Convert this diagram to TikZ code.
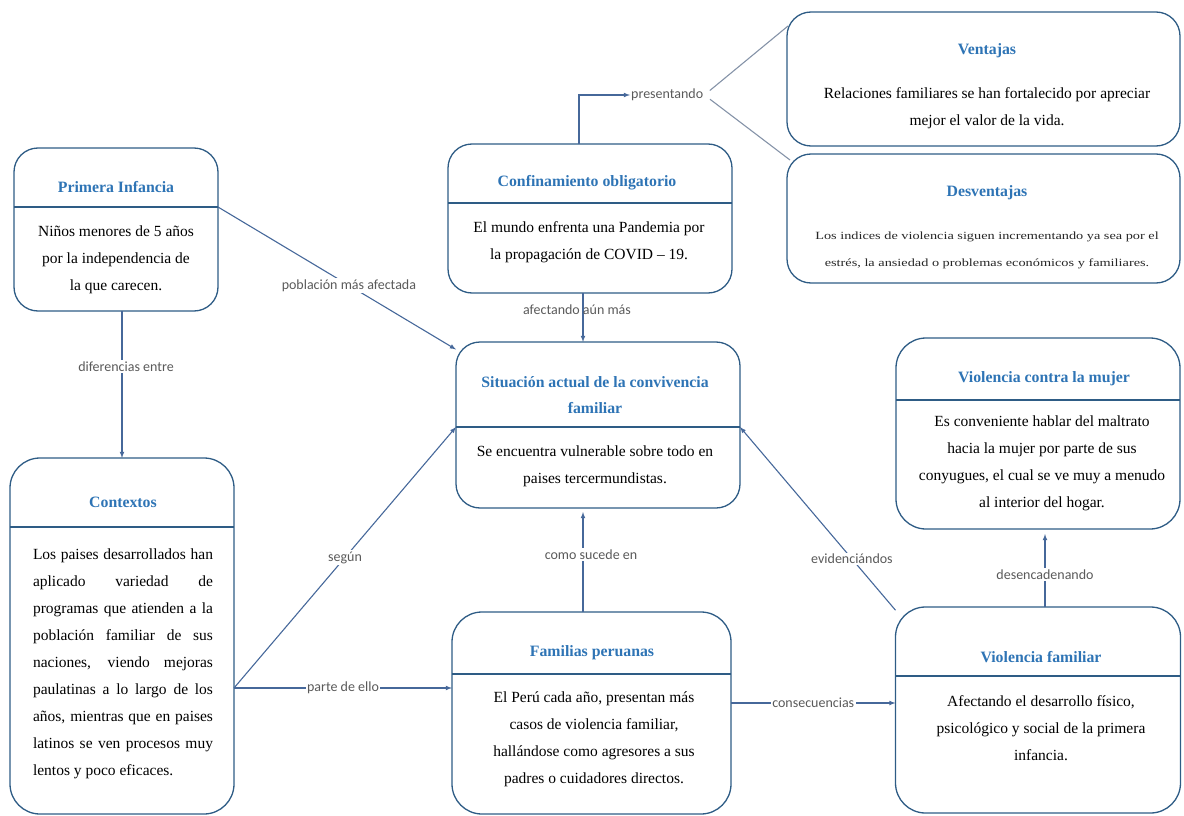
\documentclass[tikz,border=0pt]{standalone}
\usepackage{fontspec}
\setmainfont{Liberation Serif}[BoldFont={Liberation Serif Bold}]
\newfontfamily\lblfont{Carlito}
\newfontfamily\widefont{Liberation Serif}[FakeStretch=1.3]
\usetikzlibrary{shapes,arrows,calc,positioning}
\definecolor{boxblue}{HTML}{2E5C85}
\definecolor{headblue}{HTML}{2E74B5}
\definecolor{linkblue}{HTML}{46689A}
\definecolor{branchgray}{HTML}{8593A8}
\definecolor{lblgray}{HTML}{5A5A5A}

\begin{document}
\begin{tikzpicture}[x=1pt,y=-1pt,
  box/.style={draw=boxblue,line width=1.3pt,rounded corners=24pt,rectangle,inner sep=0pt,outer sep=0pt},
  split/.style={draw=boxblue,line width=1.2pt},
  head/.style={font=\bfseries\fontsize{15.8}{26}\selectfont,text=headblue,align=center,inner sep=0pt},
  body/.style={font=\fontsize{15.5}{27}\selectfont,align=center,inner sep=0pt},
  lbl/.style={font=\lblfont\fontsize{14}{15}\selectfont,text=lblgray,fill=white,inner sep=1.5pt},
  link/.style={draw=linkblue,line width=1.1pt,-latex},
  branch/.style={draw=branchgray,line width=1.1pt}]

        \useasboundingbox (0,0) rectangle (1184,816);

        % boxes
        \node[box,minimum width=204pt,minimum height=163pt] (prim) at (116,229.5) {};
        \node[box,minimum width=224pt,minimum height=356pt,rounded corners=30pt] (cont) at (122,636) {};
        \node[box,minimum width=284pt,minimum height=149pt] (conf) at (590,218.5) {};
        \node[box,minimum width=393pt,minimum height=134pt] (vent) at (983.5,79) {};
        \node[box,minimum width=393pt,minimum height=129pt] (desv) [below=8pt of vent] {};
        \node[box,minimum width=284pt,minimum height=166pt] (sit) at (598,425) {};
        \node[box,minimum width=279pt,minimum height=202pt,rounded corners=30pt] (fam) at (591.5,713) {};
        \node[box,minimum width=284pt,minimum height=191pt,rounded corners=30pt] (vcm) at (1038,433.5) {};
        \node[box,minimum width=285pt,minimum height=206pt,rounded corners=30pt] (vf) [below=78pt of vcm] {};

        \draw[split] (prim.west |- 0,207) -- (prim.east |- 0,207) coordinate (prim-dr);
        \draw[split] (cont.west |- 0,527) -- (cont.east |- 0,527);
        \draw[split] (conf.west |- 0,203) -- (conf.east |- 0,203);
        \draw[split] (sit.west |- 0,427) coordinate (sit-dl) -- (sit.east |- 0,427) coordinate (sit-dr);
        \draw[split] (fam.west |- 0,674) -- (fam.east |- 0,674);
        \draw[split] (vcm.west |- 0,400) -- (vcm.east |- 0,400);
        \draw[split] (vf.west |- 0,676) -- (vf.east |- 0,676);

        % texts
        \node[head] (prim-h) at (116,187) {Primera Infancia};
        \node[body] (prim-b) at (116,259.5) {Niños menores de 5 años\\por la independencia de\\la que carecen.};

        \node[head] (cont-h) at (123,502) {Contextos};
        \node[body,align=left] (cont-b) at (123,663.5) {%
          \makebox[180pt][s]{Los paises desarrollados han}\\
          \makebox[180pt][s]{aplicado variedad de}\\
          \makebox[180pt][s]{programas que atienden a la}\\
          \makebox[180pt][s]{población familiar de sus}\\
          \makebox[180pt][s]{naciones, viendo mejoras}\\
          \makebox[180pt][s]{paulatinas a lo largo de los}\\
          \makebox[180pt][s]{años, mientras que en paises}\\
          \makebox[180pt][s]{latinos se ven procesos muy}\\
          \makebox[180pt][l]{lentos y poco eficaces.}};

        \node[head] (conf-h) at (587,183) {Confinamiento obligatorio};
        \node[body] (conf-b) at (589,242) {El mundo enfrenta una Pandemia por\\la propagación de COVID -- 19.};

        \node[head] (vent-h) at (987,51) {Ventajas};
        \node[body] (vent-b) at (987,108) {Relaciones familiares se han fortalecido por apreciar\\mejor el valor de la vida.};

        \node[head] (desv-h) at (987,193) {Desventajas};
        \node[body,font=\widefont\fontsize{11}{27}\selectfont,text=black!85] (desv-b) at (987,250.5)
          {Los indices de violencia siguen incrementando ya sea por el\\estrés, la ansiedad o problemas económicos y familiares.};

        \node[head] (sit-h) at (595,395) {Situación actual de la convivencia\\familiar};
        \node[body] (sit-b) at (595,466.5) {Se encuentra vulnerable sobre todo en\\paises tercermundistas.};

        \node[head] (fam-h) at (592,653) {Familias peruanas};
        \node[body] (fam-b) at (594,739) {El Perú cada año, presentan más\\casos de violencia familiar,\\hallándose como agresores a sus\\padres o cuidadores directos.};

        \node[head] (vcm-h) at (1044,379) {Violencia contra la mujer};
        \node[body] (vcm-b) at (1042,463) {Es conveniente hablar del maltrato\\hacia la mujer por parte de sus\\conyugues, el cual se ve muy a menudo\\al interior del hogar.};

        \node[head] (vf-h) at (1041,657) {Violencia familiar};
        \node[body] (vf-b) at (1041,728.5) {Afectando el desarrollo físico,\\psicológico y social de la primera\\infancia.};

        % connectors
        \coordinate (cont-out) at (234,688);
        \coordinate (mid-x) at (583,0);
        \coordinate (pres-x) at (579,0);
        \coordinate (cons-y) at (0,703);
        \coordinate (des-x) at (1045,0);

        \draw[link] (prim-dr) -- node[lbl,pos=0.55] {población más afectada} (sit.152);
        \draw[link] (prim.south -| cont.north) -- node[lbl,pos=0.38,xshift=4pt] {diferencias entre} (cont.north);
        \draw[link] (cont-out) -- node[lbl] {según} (sit-dl);
        \draw[link] (cont-out) -- node[lbl] {parte de ello} (fam.west |- cont-out);
        \draw[link] (conf.south -| mid-x) -- node[lbl,fill=none,pos=0.35,xshift=-6pt] {afectando aún más} (sit.north -| mid-x);
        \draw[link,shorten >=4pt] (fam.north -| mid-x) -- node[lbl,pos=0.55,xshift=8pt] {como sucede en} (sit.south -| mid-x);
        \draw[link] (fam.east |- cons-y) -- node[lbl] {consecuencias} (vf.west |- cons-y);
        \draw[link] (vf.145) -- node[lbl,pos=0.28] {evidenciándos} (sit-dr);
        \draw[link,shorten >=5pt] (vf.north -| des-x) -- node[lbl,pos=0.42] {desencadenando} (vcm.south -| des-x);

        \node[lbl,fill=none,anchor=west,inner sep=1pt] (pres) at (630,95) {presentando};
        \draw[link] (conf.north -| pres-x) |- (pres.west);
        \draw[branch,shorten <=7pt] (pres.east) -- ($(vent.north west)+(1,14)$);
        \draw[branch,shorten <=7pt] (pres.east) -- ($(desv.north west)+(3,6)$);
      \end{tikzpicture}
\end{document}
